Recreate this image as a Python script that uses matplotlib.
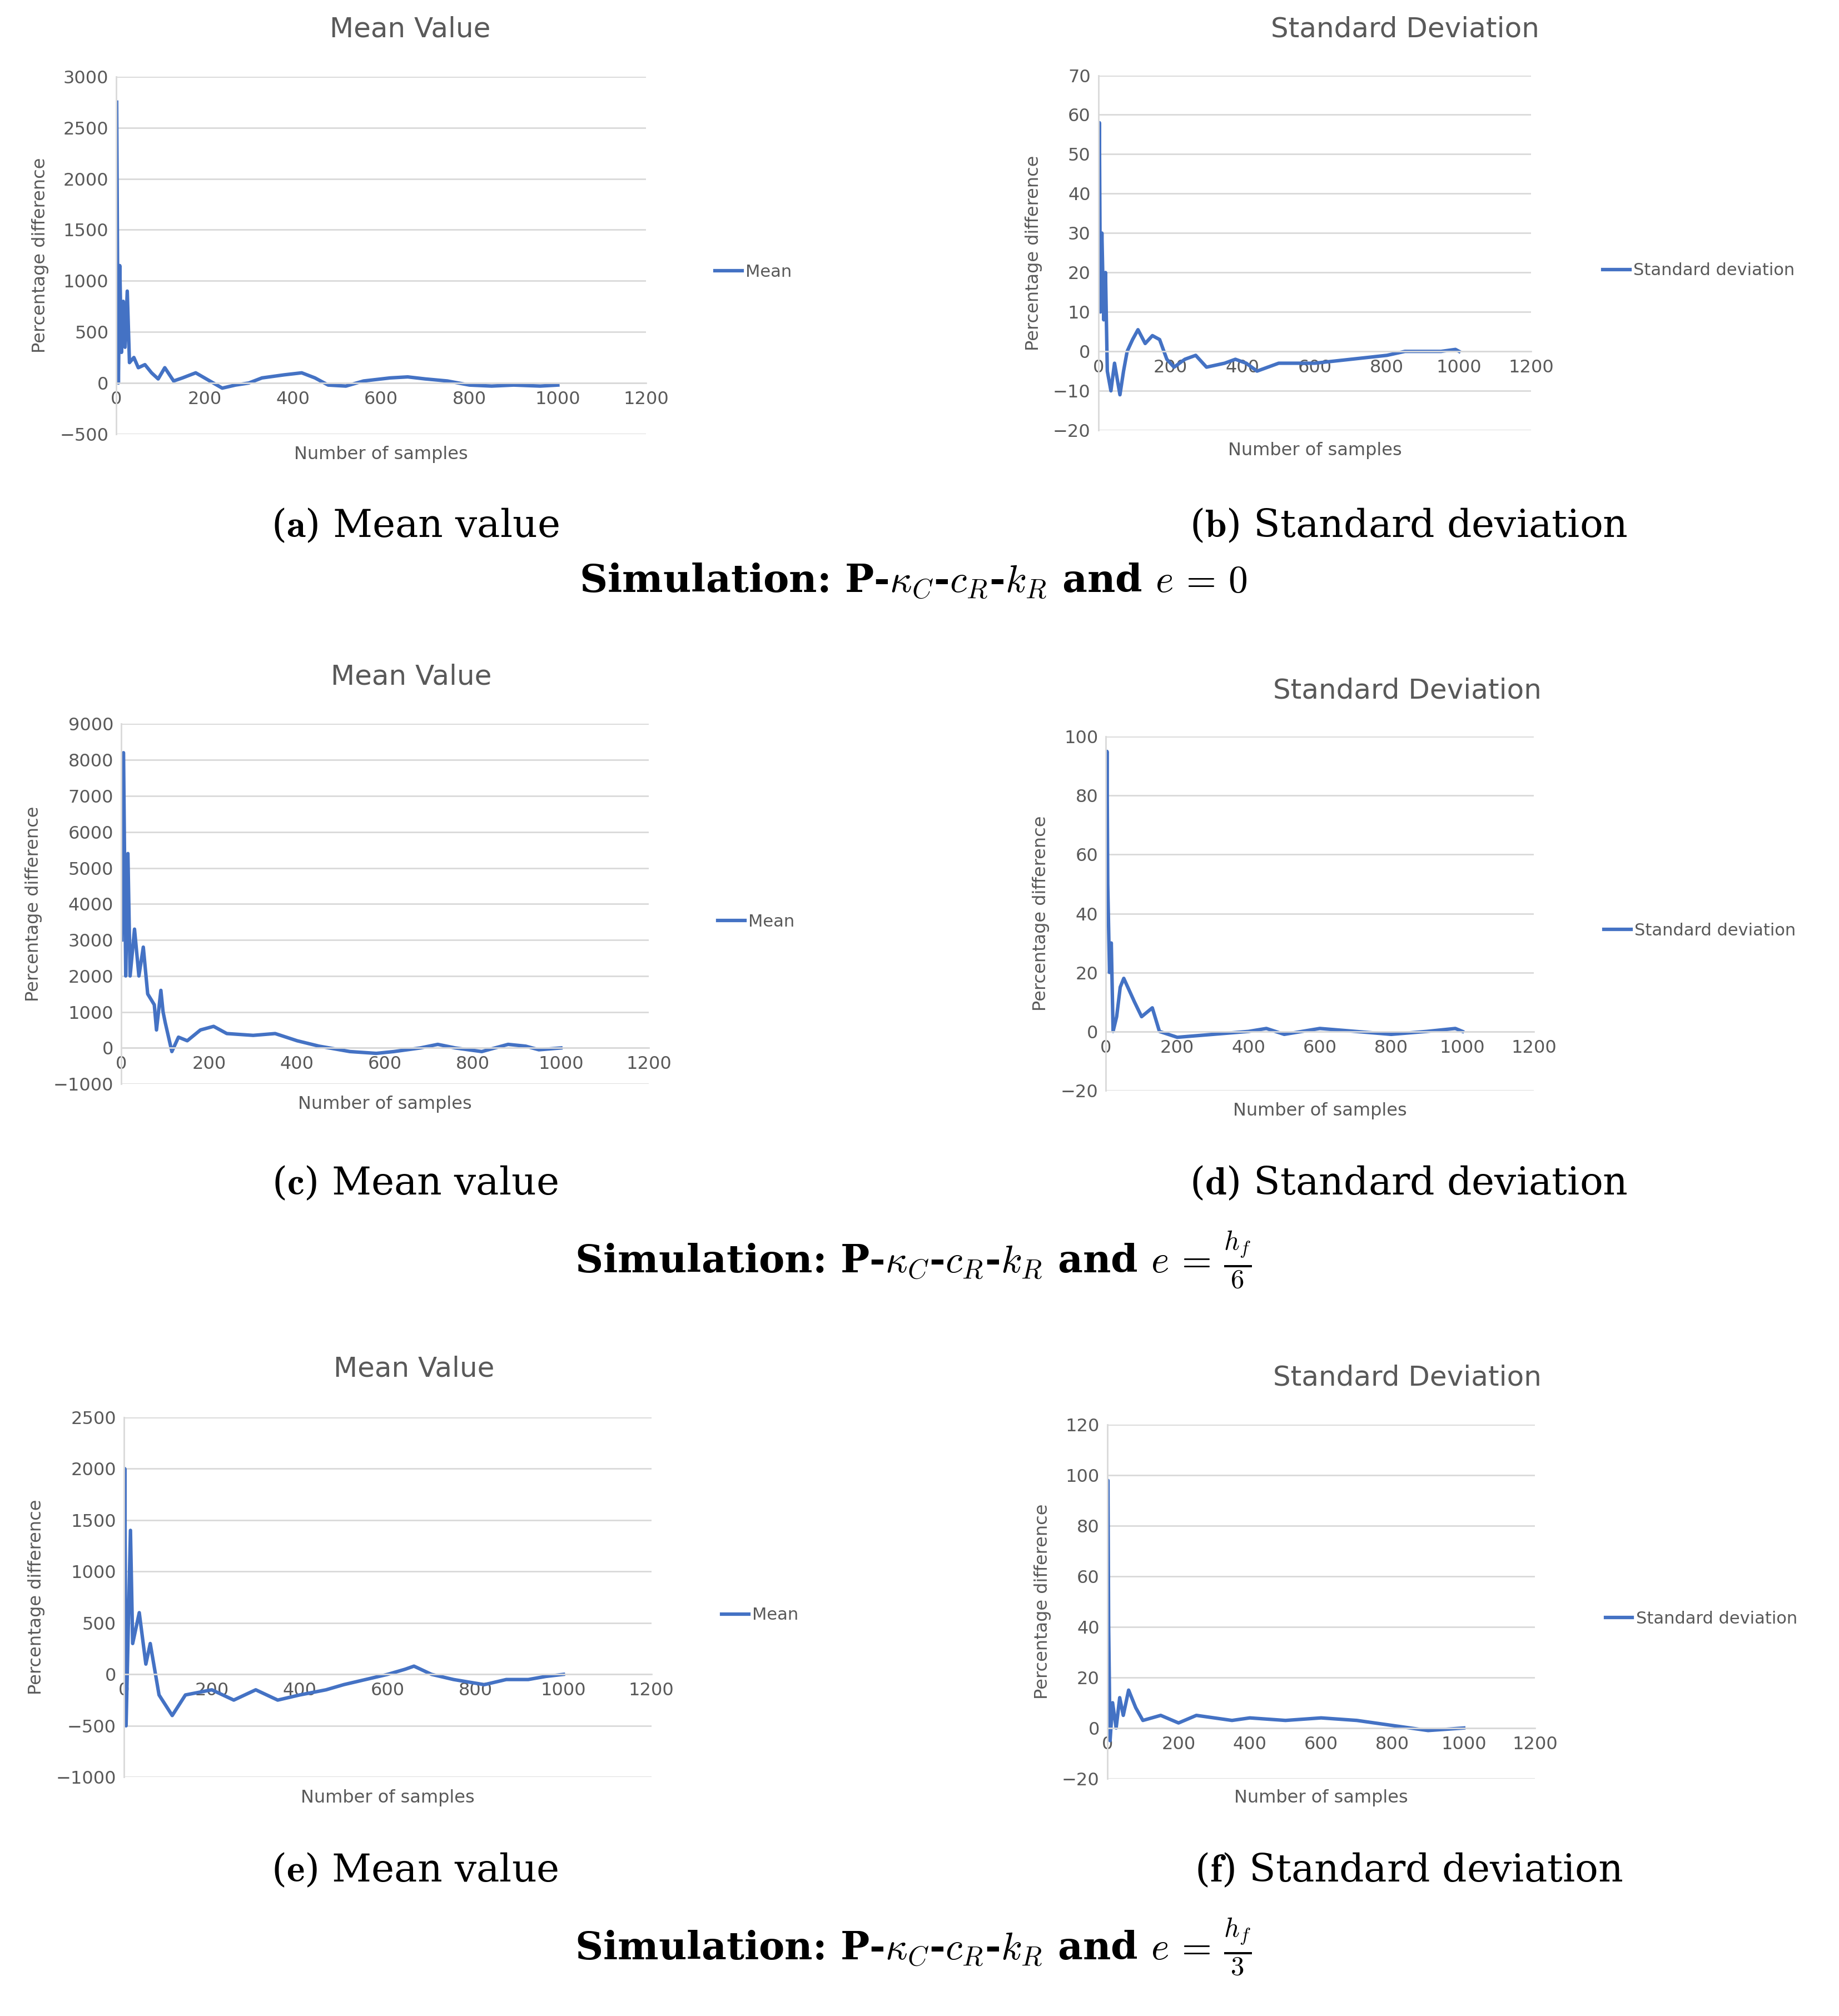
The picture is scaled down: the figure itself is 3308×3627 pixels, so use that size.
import matplotlib.pyplot as plt

plt.rcParams['mathtext.fontset'] = 'cm'

# ---- data (sample index, percentage difference) ----
a_x = [1, 3, 5, 8, 12, 16, 20, 25, 30, 40, 50, 65, 80, 95, 110, 130, 150, 180, 200, 240, 270, 300, 330, 380, 420, 450, 480, 520, 560, 620, 660, 700, 750, 800, 850, 900, 960, 1000]
a_y = [2750, 1200, 0, 1150, 300, 800, 350, 900, 200, 250, 150, 180, 100, 40, 150, 20, 50, 100, 50, -50, -20, 0, 50, 80, 100, 50, -20, -30, 20, 50, 60, 40, 20, -20, -30, -20, -30, -20]

b_x = [1, 3, 6, 10, 15, 20, 25, 35, 45, 60, 70, 80, 95, 110, 130, 150, 170, 190, 210, 240, 270, 300, 350, 380, 410, 440, 500, 600, 700, 800, 850, 950, 990, 1000]
b_y = [41, 58, 10, 30, 8, 20, -5, -10, -3, -11, -5, 0, 3, 5.5, 2, 4, 3, -2, -4, -2, -1, -4, -3, -2, -3, -5, -3, -3, -2, -1, 0, 0, 0.5, 0]

c_x = [1, 5, 10, 15, 20, 30, 40, 50, 60, 75, 80, 90, 95, 100, 115, 130, 150, 180, 210, 240, 300, 350, 400, 450, 520, 580, 620, 680, 720, 760, 820, 880, 920, 950, 1000]
c_y = [3000, 8200, 2000, 5400, 2000, 3300, 2000, 2800, 1500, 1200, 500, 1600, 1000, 700, -100, 300, 200, 500, 600, 400, 350, 400, 200, 50, -100, -150, -100, 0, 100, 0, -100, 100, 50, -50, 0]

d_x = [1, 3, 5, 10, 15, 20, 30, 40, 50, 80, 100, 130, 150, 200, 300, 400, 450, 500, 600, 700, 800, 900, 980, 1000]
d_y = [50, 95, 50, 20, 30, 0, 5, 15, 18, 10, 5, 8, 0, -2, -1, 0, 1, -1, 1, 0, -1, 0, 1, 0]

e_x = [1, 2, 5, 15, 20, 35, 50, 60, 80, 110, 140, 200, 250, 300, 350, 400, 460, 500, 550, 600, 640, 660, 700, 750, 820, 870, 920, 960, 1000]
e_y = [500, 2000, -500, 1400, 300, 600, 100, 300, -200, -400, -200, -150, -250, -150, -250, -200, -150, -100, -50, 0, 50, 80, 0, -50, -100, -50, -50, -20, 0]

f_x = [1, 2, 4, 8, 15, 25, 35, 45, 60, 80, 100, 150, 200, 250, 350, 400, 500, 600, 700, 800, 900, 1000]
f_y = [40, 98, 40, -5, 10, 0, 12, 5, 15, 8, 3, 5, 2, 5, 3, 4, 3, 4, 3, 1, -1, 0]

W, H = 1440.0, 1579.0
BLUE = '#4472C4'
GREY = '#595959'

fig = plt.figure(figsize=(33.08, 36.27), dpi=100)


def px_axes(x0, y0, x1, y1):
    return fig.add_axes([x0 / W, 1 - y1 / H, (x1 - x0) / W, (y1 - y0) / H])


def panel(box, xs, ys, ylim, ystep, title, title_xy, label, leg_xy, xlab_y):
    ax = px_axes(*box)
    ax.plot(xs, ys, color=BLUE, lw=4.5, label=label)
    ax.set_xlim(0, 1200)
    ax.set_ylim(*ylim)
    ax.set_xticks(range(0, 1201, 200))
    ax.set_yticks(range(ylim[0], ylim[1] + 1, ystep))
    ax.set_yticklabels([str(v).replace('-', '\u2212') for v in range(ylim[0], ylim[1] + 1, ystep)])
    ax.grid(axis='y', color='#D9D9D9', lw=2)
    ax.set_axisbelow(True)
    for s in ['top', 'right']:
        ax.spines[s].set_visible(False)
    ax.spines['bottom'].set_position(('data', 0))
    ax.spines['bottom'].set_color('#D9D9D9')
    ax.spines['left'].set_color('#D9D9D9')
    ax.spines['bottom'].set_linewidth(2)
    ax.spines['left'].set_linewidth(2)
    ax.tick_params(length=0, labelsize=23, colors=GREY, pad=10)
    ax.set_ylabel('Percentage difference', fontsize=23, color=GREY, labelpad=14)
    fig.text(title_xy[0] / W, 1 - title_xy[1] / H, title, fontsize=36, color=GREY, ha='center', va='center')
    fig.text((box[0] + box[2]) / 2 / W, 1 - xlab_y / H, 'Number of samples', fontsize=23, color=GREY, ha='center', va='center')
    ax.legend(loc='center left', bbox_to_anchor=(leg_xy[0] / W, 1 - leg_xy[1] / H),
              bbox_transform=fig.transFigure, frameon=False, fontsize=22,
              labelcolor=GREY, handlelength=1.6, handletextpad=0.2)
    return ax


panel((91, 60, 506, 340), a_x, a_y, (-500, 3000), 500, 'Mean Value', (321, 23), 'Mean', (548, 213), 356)
panel((860, 59, 1199, 337), b_x, b_y, (-20, 70), 10, 'Standard Deviation', (1100, 23), 'Standard deviation', (1243, 212), 353)
panel((95, 567, 508, 849), c_x, c_y, (-1000, 9000), 1000, 'Mean Value', (322, 530), 'Mean', (550, 722), 865)
panel((866, 577, 1201, 854), d_x, d_y, (-20, 100), 20, 'Standard Deviation', (1102, 541), 'Standard deviation', (1244, 729), 870)
panel((97, 1110, 510, 1392), e_x, e_y, (-1000, 2500), 500, 'Mean Value', (324, 1072), 'Mean', (553, 1265), 1408)
panel((867, 1116, 1202, 1393), f_x, f_y, (-20, 120), 20, 'Standard Deviation', (1102, 1079), 'Standard deviation', (1245, 1268), 1408)

# captions
caps = [((325, 412), 'a', 'Mean value'), ((1103, 412), 'b', 'Standard deviation'),
        ((325, 927), 'c', 'Mean value'), ((1103, 927), 'd', 'Standard deviation'),
        ((325, 1465), 'e', 'Mean value'), ((1103, 1465), 'f', 'Standard deviation')]
for (cx, cy), letter, txt in caps:
    fig.text(cx / W, 1 - cy / H, r'(' + r'$\mathbf{' + letter + '}$' + ') ' + txt,
             fontsize=50, family='serif', ha='center', va='center')

sims = [(455, r'$e\,=\,0$'), (987, r'$e\,=\,\frac{h_f}{6}$'), (1525, r'$e\,=\,\frac{h_f}{3}$')]
for sy, expr in sims:
    fig.text(715 / W, 1 - sy / H,
             r'Simulation: P-$\kappa_C$-$c_R$-$k_R$ and ' + expr,
             fontsize=50, family='serif', fontweight='bold', ha='center', va='center')

fig.savefig('out.png', dpi=100)
